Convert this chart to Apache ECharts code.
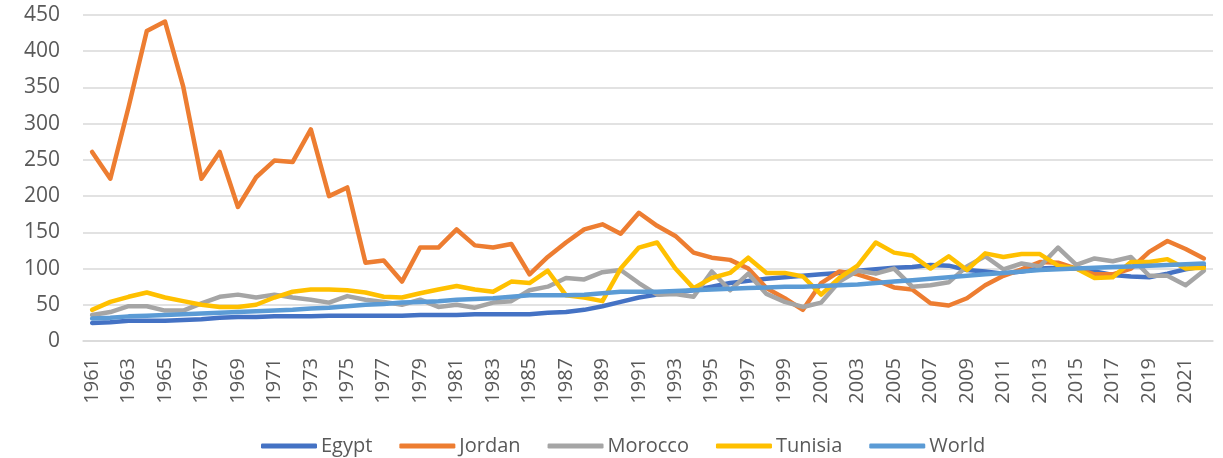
<!DOCTYPE html>
<html>
<head>
<meta charset="utf-8">
<title>Index chart</title>
<script src="https://cdn.jsdelivr.net/npm/echarts/dist/echarts.min.js"></script>
<style>
  html, body { margin: 0; padding: 0; background: #fff; }
  #chart { width: 1223px; height: 458px; }
</style>
</head>
<body>
<div id="chart"></div>
<script>
// years 1961..2022
var years = [];
for (var y = 1961; y <= 2022; y++) years.push(String(y));

var egypt = [25, 26, 28, 28, 28, 29, 30, 32, 33, 33, 34, 34, 34, 35, 35, 35, 35, 35, 36, 36,
  36, 37, 37, 37, 37, 39, 40, 43, 48, 54, 60, 64, 67, 70, 75, 80, 83, 86, 88, 90,
  92, 94, 97, 99, 101, 102, 105, 104, 98, 96, 93, 96, 100, 101, 100, 96, 91, 89, 88, 93,
  99, 103];

var jordan = [261, 224, 323, 428, 441, 351, 224, 261, 185, 226, 249, 247, 292, 200, 212, 108, 111, 82, 129, 129,
  154, 132, 129, 134, 92, 116, 136, 154, 161, 148, 177, 159, 145, 122, 115, 112, 100, 73, 59, 43,
  80, 96, 92, 84, 74, 71, 52, 49, 59, 77, 90, 99, 109, 108, 100, 92, 92, 100, 123, 138,
  127, 114];

var morocco = [36, 40, 48, 48, 42, 42, 52, 61, 64, 60, 64, 60, 57, 53, 62, 57, 54, 50, 57, 47,
  50, 46, 53, 55, 70, 75, 87, 85, 95, 98, 80, 64, 65, 61, 96, 70, 93, 65, 54, 47,
  53, 82, 97, 93, 100, 75, 77, 81, 103, 117, 99, 107, 103, 129, 105, 114, 110, 116, 90, 90,
  77, 97];

var tunisia = [43, 54, 61, 67, 60, 55, 50, 47, 47, 50, 60, 68, 71, 71, 70, 67, 61, 60, 66, 71,
  76, 71, 68, 82, 80, 97, 63, 60, 55, 100, 129, 136, 100, 73, 87, 94, 115, 94, 94, 89,
  64, 87, 104, 136, 122, 118, 100, 117, 98, 121, 116, 120, 120, 104, 100, 87, 88, 109, 109, 113,
  100, 101];

var world = [31, 32, 34, 35, 36, 37, 38, 39, 40, 41, 42, 43, 45, 46, 48, 50, 51, 53, 54, 55,
  57, 58, 59, 61, 63, 63, 63, 64, 66, 68, 68, 68, 69, 70, 71, 72, 73, 74, 75, 75,
  76, 77, 78, 80, 82, 84, 86, 88, 90, 92, 94, 96, 98, 99, 100, 101, 102, 103, 104, 105,
  106, 107];

var names = ['Egypt', 'Jordan', 'Morocco', 'Tunisia', 'World'];
var colors = ['#4472C4', '#ED7D31', '#A5A5A5', '#FFC000', '#5B9BD5'];
var values = [egypt, jordan, morocco, tunisia, world];

var textColor = '#595959';
var gridColor = '#D9D9D9';
var font = '"Open Sans", "Noto Sans", sans-serif';

var chart = echarts.init(document.getElementById('chart'));

var series = names.map(function (n, i) {
  return {
    name: n,
    type: 'line',
    data: values[i],
    symbol: 'none',
    lineStyle: { width: 4.5, color: colors[i], cap: 'round', join: 'round' },
    itemStyle: { color: colors[i] }
  };
});

chart.setOption({
  animation: false,
  color: colors,
  grid: { left: 83, right: 10, top: 15, bottom: 117 },
  legend: {
    data: names,
    left: 256,
    top: 431,
    icon: 'roundRect',
    itemWidth: 56,
    itemHeight: 5,
    itemGap: 27,
    textStyle: { color: textColor, fontSize: 20, fontFamily: font, padding: [0, 0, 0, -1] }
  },
  xAxis: {
    type: 'category',
    data: years,
    boundaryGap: true,
    axisTick: { show: false },
    axisLine: { lineStyle: { color: gridColor, width: 1.5 } },
    axisLabel: {
      rotate: 90,
      interval: 1,
      margin: 17,
      color: textColor,
      fontSize: 20,
      fontFamily: font
    }
  },
  yAxis: {
    type: 'value',
    min: 0,
    max: 450,
    interval: 50,
    axisLine: { show: false },
    axisTick: { show: false },
    splitLine: { lineStyle: { color: gridColor, width: 1.5 } },
    axisLabel: { margin: 23, color: textColor, fontSize: 21, fontFamily: font }
  },
  series: series
});
</script>
</body>
</html>
